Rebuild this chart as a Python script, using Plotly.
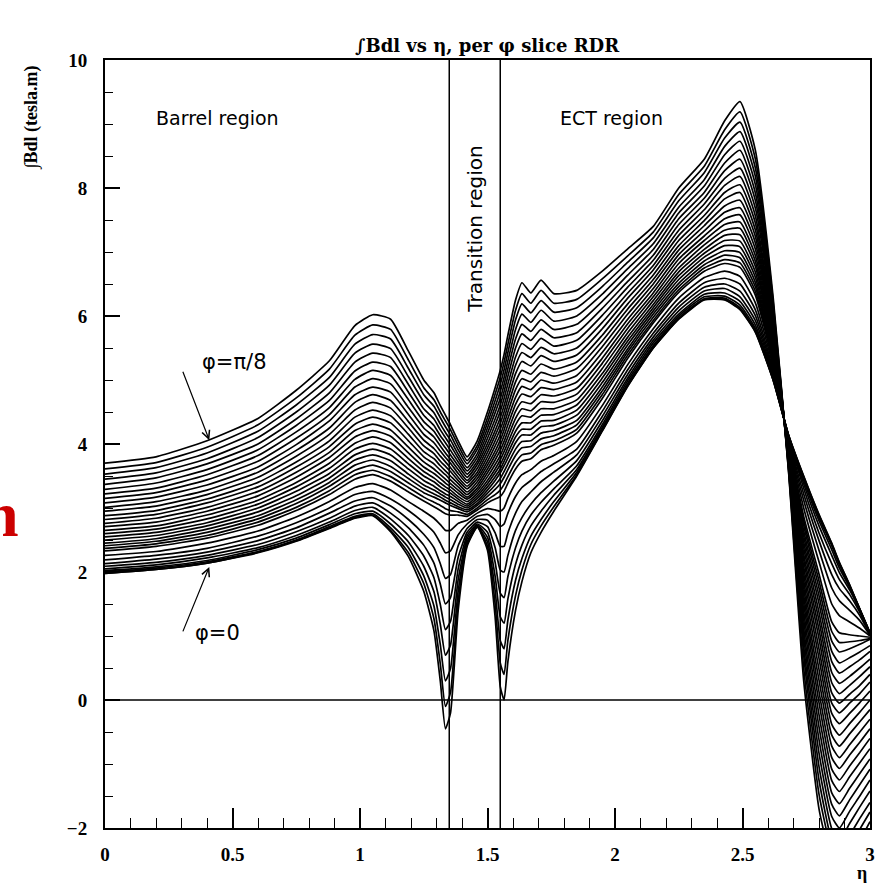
import plotly.graph_objects as go

# eta sampling points
eta = [0.00, 0.20, 0.40, 0.60, 0.75, 0.88, 0.98, 1.05,
       1.12, 1.19, 1.25, 1.29, 1.315, 1.335, 1.355, 1.385,
       1.42, 1.46, 1.50, 1.53, 1.55, 1.565, 1.58, 1.61,
       1.635, 1.67, 1.71, 1.76, 1.85, 1.95, 2.05, 2.15,
       2.25, 2.35, 2.43, 2.49, 2.55, 2.62, 2.68, 2.74,
       2.80, 2.85, 2.88, 2.92, 2.96, 3.00]

# integral B.dl (tesla.m) per phi slice, from phi = 0 (slice_00) up to phi = pi/8 (slice_31)
slice_00 = [1.98, 2.04, 2.14, 2.30, 2.48, 2.68, 2.84, 2.88, 2.63, 2.24, 1.70, 1.08, 0.29, -0.45, -0.20, 1.40,
            2.40, 2.70, 2.34, 1.29, 0.21, 0.00, 0.60, 1.40, 1.85, 2.30, 2.62, 2.95, 3.50, 4.20, 4.90, 5.50,
            5.95, 6.25, 6.25, 6.10, 5.75, 5.00, 4.15, 3.50, 2.90, 2.45, 2.15, 1.80, 1.42, 1.05]
slice_01 = [1.98, 2.04, 2.14, 2.31, 2.49, 2.69, 2.85, 2.89, 2.65, 2.30, 1.82, 1.27, 0.56, -0.10, 0.12, 1.54,
            2.43, 2.70, 2.40, 1.50, 0.58, 0.40, 0.93, 1.63, 2.03, 2.43, 2.72, 3.02, 3.52, 4.21, 4.91, 5.50,
            5.96, 6.26, 6.26, 6.11, 5.76, 5.00, 4.15, 3.49, 2.89, 2.44, 2.14, 1.80, 1.42, 1.05]
slice_02 = [2.00, 2.06, 2.16, 2.32, 2.50, 2.71, 2.87, 2.91, 2.69, 2.38, 1.94, 1.47, 0.86, 0.30, 0.49, 1.70,
            2.47, 2.71, 2.47, 1.71, 0.93, 0.80, 1.25, 1.87, 2.21, 2.56, 2.82, 3.10, 3.56, 4.23, 4.92, 5.52,
            5.97, 6.27, 6.28, 6.13, 5.78, 5.01, 4.14, 3.47, 2.85, 2.41, 2.11, 1.78, 1.42, 1.05]
slice_03 = [2.02, 2.08, 2.18, 2.35, 2.53, 2.74, 2.91, 2.95, 2.75, 2.47, 2.09, 1.69, 1.18, 0.70, 0.86, 1.88,
            2.52, 2.73, 2.54, 1.93, 1.30, 1.20, 1.58, 2.12, 2.42, 2.72, 2.95, 3.20, 3.60, 4.26, 4.95, 5.54,
            6.00, 6.30, 6.31, 6.17, 5.81, 5.03, 4.14, 3.43, 2.80, 2.35, 2.06, 1.76, 1.41, 1.04]
slice_04 = [2.05, 2.11, 2.22, 2.38, 2.57, 2.78, 2.96, 3.01, 2.83, 2.57, 2.25, 1.91, 1.49, 1.10, 1.23, 2.05,
            2.57, 2.75, 2.62, 2.15, 1.67, 1.60, 1.93, 2.38, 2.64, 2.89, 3.09, 3.30, 3.66, 4.30, 4.99, 5.58,
            6.03, 6.34, 6.36, 6.23, 5.86, 5.05, 4.13, 3.38, 2.72, 2.26, 1.99, 1.72, 1.40, 1.04]
slice_05 = [2.09, 2.15, 2.26, 2.43, 2.63, 2.84, 3.03, 3.08, 2.92, 2.69, 2.42, 2.14, 1.81, 1.50, 1.60, 2.23,
            2.62, 2.78, 2.71, 2.38, 2.03, 2.00, 2.26, 2.65, 2.85, 3.06, 3.24, 3.42, 3.74, 4.36, 5.03, 5.62,
            6.08, 6.39, 6.43, 6.30, 5.93, 5.08, 4.12, 3.31, 2.61, 2.13, 1.88, 1.65, 1.37, 1.03]
slice_06 = [2.13, 2.20, 2.31, 2.49, 2.69, 2.92, 3.11, 3.16, 3.03, 2.82, 2.59, 2.38, 2.13, 1.90, 1.96, 2.41,
            2.68, 2.82, 2.81, 2.61, 2.40, 2.40, 2.61, 2.92, 3.10, 3.25, 3.41, 3.56, 3.83, 4.43, 5.09, 5.67,
            6.14, 6.45, 6.50, 6.39, 6.01, 5.12, 4.10, 3.22, 2.49, 1.96, 1.74, 1.55, 1.32, 1.02]
slice_07 = [2.19, 2.26, 2.37, 2.56, 2.77, 3.00, 3.21, 3.26, 3.14, 2.96, 2.77, 2.62, 2.45, 2.30, 2.33, 2.58,
            2.75, 2.87, 2.90, 2.82, 2.71, 2.75, 2.92, 3.18, 3.32, 3.43, 3.57, 3.69, 3.92, 4.51, 5.16, 5.73,
            6.20, 6.52, 6.59, 6.50, 6.10, 5.16, 4.08, 3.12, 2.34, 1.75, 1.55, 1.40, 1.24, 1.01]
slice_08 = [2.26, 2.32, 2.45, 2.64, 2.86, 3.10, 3.32, 3.38, 3.28, 3.10, 2.95, 2.84, 2.74, 2.65, 2.65, 2.76,
            2.81, 2.92, 2.99, 2.97, 2.95, 3.00, 3.15, 3.39, 3.52, 3.60, 3.73, 3.82, 4.04, 4.60, 5.24, 5.80,
            6.28, 6.60, 6.70, 6.62, 6.21, 5.21, 4.06, 3.00, 2.16, 1.50, 1.32, 1.22, 1.12, 1.00]
slice_09 = [2.33, 2.40, 2.53, 2.73, 2.96, 3.21, 3.45, 3.52, 3.42, 3.25, 3.11, 3.02, 2.96, 2.91, 2.89, 2.89,
            2.87, 2.97, 3.08, 3.14, 3.18, 3.26, 3.39, 3.61, 3.73, 3.77, 3.91, 3.98, 4.17, 4.71, 5.34, 5.89,
            6.37, 6.70, 6.82, 6.76, 6.33, 5.26, 4.04, 2.87, 1.97, 1.22, 1.05, 1.02, 1.00, 0.98]
slice_10 = [2.37, 2.44, 2.57, 2.78, 3.01, 3.27, 3.52, 3.59, 3.49, 3.32, 3.17, 3.09, 3.04, 2.99, 2.96, 2.94,
            2.90, 3.00, 3.13, 3.21, 3.28, 3.37, 3.49, 3.71, 3.83, 3.86, 3.99, 4.05, 4.23, 4.77, 5.39, 5.93,
            6.41, 6.75, 6.88, 6.83, 6.39, 5.29, 4.02, 2.80, 1.86, 1.07, 0.90, 0.91, 0.93, 0.96]
slice_11 = [2.41, 2.48, 2.62, 2.83, 3.07, 3.34, 3.59, 3.67, 3.57, 3.39, 3.24, 3.17, 3.12, 3.08, 3.04, 2.99,
            2.94, 3.04, 3.18, 3.29, 3.38, 3.48, 3.60, 3.82, 3.94, 3.96, 4.08, 4.13, 4.30, 4.83, 5.44, 5.98,
            6.46, 6.80, 6.95, 6.91, 6.46, 5.33, 4.01, 2.73, 1.75, 0.92, 0.75, 0.80, 0.87, 0.95]
slice_12 = [2.45, 2.52, 2.67, 2.88, 3.13, 3.40, 3.67, 3.75, 3.65, 3.46, 3.30, 3.22, 3.17, 3.12, 3.08, 3.02,
            2.97, 3.07, 3.23, 3.36, 3.46, 3.57, 3.69, 3.92, 4.04, 4.05, 4.17, 4.21, 4.37, 4.89, 5.49, 6.03,
            6.51, 6.86, 7.02, 6.99, 6.53, 5.36, 3.99, 2.64, 1.63, 0.76, 0.58, 0.66, 0.75, 0.85]
slice_13 = [2.50, 2.57, 2.72, 2.94, 3.19, 3.47, 3.75, 3.83, 3.74, 3.53, 3.36, 3.28, 3.22, 3.17, 3.13, 3.06,
            3.00, 3.11, 3.28, 3.43, 3.55, 3.66, 3.78, 4.02, 4.14, 4.14, 4.27, 4.29, 4.45, 4.96, 5.55, 6.08,
            6.57, 6.92, 7.10, 7.08, 6.61, 5.39, 3.98, 2.56, 1.51, 0.60, 0.42, 0.52, 0.63, 0.76]
slice_14 = [2.55, 2.62, 2.77, 3.00, 3.26, 3.54, 3.83, 3.92, 3.83, 3.61, 3.43, 3.34, 3.27, 3.22, 3.18, 3.10,
            3.03, 3.15, 3.33, 3.49, 3.61, 3.73, 3.86, 4.11, 4.23, 4.23, 4.36, 4.37, 4.53, 5.03, 5.61, 6.13,
            6.63, 6.98, 7.18, 7.17, 6.69, 5.43, 3.96, 2.47, 1.37, 0.43, 0.26, 0.37, 0.50, 0.64]
slice_15 = [2.60, 2.67, 2.83, 3.06, 3.33, 3.62, 3.92, 4.01, 3.92, 3.69, 3.50, 3.41, 3.33, 3.28, 3.23, 3.14,
            3.06, 3.19, 3.38, 3.55, 3.68, 3.80, 3.94, 4.20, 4.33, 4.33, 4.45, 4.46, 4.61, 5.10, 5.67, 6.18,
            6.69, 7.04, 7.26, 7.27, 6.78, 5.47, 3.95, 2.38, 1.24, 0.27, 0.10, 0.23, 0.37, 0.52]
slice_16 = [2.65, 2.72, 2.89, 3.12, 3.40, 3.70, 4.01, 4.11, 4.02, 3.77, 3.57, 3.47, 3.39, 3.33, 3.28, 3.18,
            3.10, 3.23, 3.43, 3.61, 3.75, 3.88, 4.02, 4.30, 4.44, 4.42, 4.55, 4.55, 4.69, 5.18, 5.74, 6.24,
            6.75, 7.11, 7.34, 7.37, 6.86, 5.51, 3.93, 2.28, 1.10, 0.11, -0.05, 0.09, 0.23, 0.40]
slice_17 = [2.71, 2.78, 2.95, 3.19, 3.48, 3.79, 4.11, 4.21, 4.12, 3.86, 3.64, 3.54, 3.46, 3.39, 3.33, 3.23,
            3.14, 3.27, 3.49, 3.68, 3.82, 3.96, 4.11, 4.40, 4.55, 4.52, 4.66, 4.65, 4.78, 5.26, 5.81, 6.30,
            6.82, 7.18, 7.43, 7.47, 6.95, 5.55, 3.92, 2.19, 0.96, -0.05, -0.20, -0.05, 0.10, 0.28]
slice_18 = [2.76, 2.84, 3.01, 3.26, 3.56, 3.87, 4.21, 4.31, 4.22, 3.95, 3.72, 3.61, 3.52, 3.45, 3.38, 3.28,
            3.17, 3.31, 3.55, 3.75, 3.90, 4.04, 4.20, 4.51, 4.66, 4.63, 4.77, 4.75, 4.87, 5.34, 5.88, 6.36,
            6.89, 7.25, 7.52, 7.58, 7.05, 5.59, 3.90, 2.08, 0.80, -0.21, -0.37, -0.21, -0.04, 0.14]
slice_19 = [2.82, 2.90, 3.08, 3.33, 3.64, 3.96, 4.31, 4.42, 4.33, 4.05, 3.80, 3.69, 3.59, 3.52, 3.44, 3.33,
            3.21, 3.36, 3.61, 3.82, 3.98, 4.13, 4.30, 4.62, 4.78, 4.74, 4.88, 4.85, 4.97, 5.43, 5.95, 6.43,
            6.96, 7.33, 7.62, 7.69, 7.15, 5.64, 3.88, 1.98, 0.65, -0.38, -0.55, -0.37, -0.19, 0.00]
slice_20 = [2.88, 2.96, 3.14, 3.40, 3.72, 4.05, 4.42, 4.53, 4.44, 4.15, 3.88, 3.77, 3.66, 3.58, 3.50, 3.38,
            3.25, 3.41, 3.67, 3.89, 4.06, 4.22, 4.40, 4.73, 4.90, 4.85, 5.00, 4.95, 5.07, 5.52, 6.03, 6.50,
            7.03, 7.41, 7.72, 7.81, 7.25, 5.68, 3.86, 1.87, 0.48, -0.55, -0.72, -0.53, -0.34, -0.15]
slice_21 = [2.95, 3.03, 3.21, 3.48, 3.81, 4.15, 4.53, 4.65, 4.56, 4.25, 3.97, 3.85, 3.73, 3.65, 3.57, 3.43,
            3.30, 3.46, 3.73, 3.97, 4.14, 4.31, 4.50, 4.85, 5.02, 4.97, 5.12, 5.06, 5.18, 5.61, 6.11, 6.57,
            7.10, 7.49, 7.83, 7.93, 7.35, 5.73, 3.84, 1.76, 0.31, -0.72, -0.90, -0.70, -0.50, -0.30]
slice_22 = [3.01, 3.10, 3.28, 3.56, 3.90, 4.25, 4.65, 4.77, 4.68, 4.35, 4.06, 3.93, 3.81, 3.72, 3.63, 3.48,
            3.34, 3.51, 3.80, 4.05, 4.23, 4.40, 4.60, 4.97, 5.15, 5.09, 5.25, 5.17, 5.28, 5.70, 6.19, 6.64,
            7.18, 7.57, 7.93, 8.05, 7.46, 5.78, 3.82, 1.64, 0.13, -0.90, -1.07, -0.86, -0.66, -0.45]
slice_23 = [3.08, 3.17, 3.36, 3.64, 3.99, 4.36, 4.77, 4.89, 4.81, 4.46, 4.15, 4.02, 3.89, 3.79, 3.70, 3.54,
            3.39, 3.56, 3.87, 4.13, 4.32, 4.50, 4.71, 5.10, 5.29, 5.22, 5.38, 5.29, 5.39, 5.80, 6.28, 6.72,
            7.26, 7.66, 8.04, 8.18, 7.57, 5.83, 3.80, 1.52, -0.04, -1.08, -1.25, -1.03, -0.82, -0.60]
slice_24 = [3.15, 3.24, 3.44, 3.73, 4.09, 4.46, 4.89, 5.02, 4.94, 4.57, 4.25, 4.11, 3.97, 3.86, 3.76, 3.60,
            3.43, 3.62, 3.94, 4.21, 4.41, 4.60, 4.82, 5.23, 5.43, 5.35, 5.51, 5.41, 5.50, 5.90, 6.36, 6.79,
            7.34, 7.75, 8.15, 8.31, 7.69, 5.88, 3.77, 1.39, -0.23, -1.26, -1.43, -1.20, -0.98, -0.76]
slice_25 = [3.22, 3.31, 3.52, 3.82, 4.19, 4.57, 5.01, 5.15, 5.07, 4.69, 4.35, 4.20, 4.05, 3.94, 3.83, 3.66,
            3.48, 3.68, 4.01, 4.30, 4.51, 4.71, 4.94, 5.36, 5.57, 5.48, 5.65, 5.53, 5.62, 6.01, 6.45, 6.87,
            7.43, 7.84, 8.27, 8.45, 7.81, 5.94, 3.75, 1.26, -0.42, -1.45, -1.62, -1.38, -1.15, -0.92]
slice_26 = [3.29, 3.39, 3.60, 3.91, 4.29, 4.68, 5.14, 5.28, 5.21, 4.81, 4.45, 4.29, 4.13, 4.02, 3.90, 3.72,
            3.53, 3.73, 4.09, 4.39, 4.61, 4.82, 5.06, 5.50, 5.72, 5.62, 5.79, 5.66, 5.74, 6.12, 6.54, 6.95,
            7.52, 7.93, 8.39, 8.59, 7.93, 5.99, 3.72, 1.12, -0.62, -1.63, -1.81, -1.56, -1.32, -1.08]
slice_27 = [3.37, 3.47, 3.69, 4.00, 4.39, 4.80, 5.28, 5.42, 5.35, 4.93, 4.55, 4.39, 4.22, 4.10, 3.98, 3.78,
            3.58, 3.79, 4.17, 4.49, 4.71, 4.93, 5.18, 5.64, 5.87, 5.76, 5.94, 5.79, 5.87, 6.23, 6.64, 7.04,
            7.61, 8.03, 8.52, 8.73, 8.06, 6.05, 3.70, 0.99, -0.83, -1.82, -2.00, -1.74, -1.50, -1.25]
slice_28 = [3.45, 3.55, 3.77, 4.10, 4.50, 4.92, 5.42, 5.56, 5.49, 5.05, 4.66, 4.49, 4.31, 4.18, 4.06, 3.84,
            3.63, 3.85, 4.25, 4.58, 4.82, 5.04, 5.30, 5.79, 6.03, 5.90, 6.09, 5.92, 6.00, 6.34, 6.74, 7.13,
            7.70, 8.13, 8.65, 8.88, 8.19, 6.11, 3.67, 0.84, -1.04, -2.01, -2.20, -1.93, -1.67, -1.42]
slice_29 = [3.53, 3.63, 3.86, 4.20, 4.61, 5.04, 5.56, 5.71, 5.64, 5.18, 4.77, 4.59, 4.41, 4.27, 4.14, 3.91,
            3.69, 3.92, 4.33, 4.68, 4.93, 5.16, 5.43, 5.94, 6.19, 6.05, 6.24, 6.06, 6.13, 6.46, 6.84, 7.22,
            7.80, 8.24, 8.78, 9.03, 8.32, 6.17, 3.65, 0.70, -1.25, -2.20, -2.40, -2.12, -1.85, -1.60]
slice_30 = [3.61, 3.71, 3.95, 4.30, 4.72, 5.17, 5.70, 5.86, 5.79, 5.31, 4.88, 4.69, 4.50, 4.36, 4.22, 3.98,
            3.74, 3.98, 4.41, 4.78, 5.04, 5.28, 5.56, 6.09, 6.35, 6.20, 6.40, 6.20, 6.26, 6.58, 6.94, 7.31,
            7.90, 8.34, 8.91, 9.19, 8.46, 6.23, 3.62, 0.50, -1.47, -2.37, -2.60, -2.31, -2.02, -1.75]
slice_31 = [3.70, 3.80, 4.05, 4.40, 4.84, 5.30, 5.85, 6.02, 5.95, 5.45, 5.00, 4.80, 4.60, 4.45, 4.30, 4.05,
            3.80, 4.05, 4.50, 4.88, 5.15, 5.40, 5.70, 6.25, 6.52, 6.36, 6.56, 6.35, 6.40, 6.70, 7.05, 7.40,
            8.00, 8.45, 9.05, 9.35, 8.60, 6.30, 3.60, 0.30, -1.70, -2.55, -2.80, -2.50, -2.20, -1.90]

phi_slices = [slice_00, slice_01, slice_02, slice_03, slice_04, slice_05, slice_06, slice_07,
              slice_08, slice_09, slice_10, slice_11, slice_12, slice_13, slice_14, slice_15,
              slice_16, slice_17, slice_18, slice_19, slice_20, slice_21, slice_22, slice_23,
              slice_24, slice_25, slice_26, slice_27, slice_28, slice_29, slice_30, slice_31]

# region boundaries in eta and the zero reference
region_edges = [1.35, 1.55]
zero_level = 0.0

x_ticks = [0, 0.5, 1, 1.5, 2, 2.5, 3]
x_tick_text = ["0", "0.5", "1", "1.5", "2", "2.5", "3"]
y_ticks = [-2, 0, 2, 4, 6, 8, 10]

SERIF = "Liberation Serif"
SERIF_WIDE = "DejaVu Serif"
SANS = "DejaVu Sans"

fig = go.Figure()

for i, values in enumerate(phi_slices):
    fig.add_trace(go.Scatter(
        x=eta, y=values, mode="lines",
        line=dict(color="black", width=1.7, shape="spline", smoothing=0.5),
        hoverinfo="skip", showlegend=False, name=f"slice {i}",
    ))

for edge in region_edges:
    fig.add_shape(type="line", xref="x", yref="y", x0=edge, x1=edge, y0=-2, y1=10,
                  line=dict(color="black", width=1.5))
fig.add_shape(type="line", xref="x", yref="y", x0=0, x1=3, y0=zero_level, y1=zero_level,
              line=dict(color="black", width=1.5))

fig.update_layout(
    width=882, height=885,
    margin=dict(l=105, r=7, t=60, b=57),
    paper_bgcolor="white", plot_bgcolor="white",
    showlegend=False,
    hovermode=False,
)

fig.update_xaxes(
    range=[0, 3], showgrid=False, zeroline=False,
    showline=True, mirror=True, linecolor="black", linewidth=2,
    tickmode="array", tickvals=x_ticks, ticktext=x_tick_text,
    ticks="inside", ticklen=20, tickwidth=1.5, tickcolor="black",
    ticklabelstandoff=8,
    tickfont=dict(family=SERIF, size=19, color="black", weight="bold"),
    minor=dict(dtick=0.1, ticks="inside", ticklen=10, tickwidth=1.2, tickcolor="black", showgrid=False),
)
fig.update_yaxes(
    range=[-2, 10], showgrid=False, zeroline=False,
    showline=True, mirror=True, linecolor="black", linewidth=2,
    tickmode="array", tickvals=y_ticks,
    ticks="inside", ticklen=15, tickwidth=1.5, tickcolor="black",
    ticklabelstandoff=12,
    tickfont=dict(family=SERIF, size=19, color="black", weight="bold"),
    minor=dict(dtick=0.5, ticks="inside", ticklen=8, tickwidth=1.2, tickcolor="black", showgrid=False),
)

annotations = [
    dict(text="∫Bdl vs η, per φ slice RDR", xref="paper", yref="paper", x=0.5, y=1.0195,
         xanchor="center", yanchor="middle", showarrow=False,
         font=dict(family=SERIF_WIDE, size=18, color="black", weight="bold")),
    dict(text="∫Bdl (tesla.m)", xref="paper", yref="paper", x=-0.096, y=0.9245,
         xanchor="center", yanchor="middle", textangle=-90, showarrow=False,
         font=dict(family=SERIF, size=18, color="black", weight="bold")),
    dict(text="η", xref="paper", yref="paper", x=0.989, y=-0.058,
         xanchor="center", yanchor="middle", showarrow=False,
         font=dict(family=SERIF, size=18, color="black", weight="bold")),
    dict(text="Barrel region", xref="paper", yref="paper", x=0.1468, y=0.9245,
         xanchor="center", yanchor="middle", showarrow=False,
         font=dict(family=SANS, size=19, color="black")),
    dict(text="ECT region", xref="paper", yref="paper", x=0.6623, y=0.9245,
         xanchor="center", yanchor="middle", showarrow=False,
         font=dict(family=SANS, size=19, color="black")),
    dict(text="Transition region", xref="x", yref="paper", x=1.45, y=0.78,
         xanchor="center", yanchor="middle", textangle=-90, showarrow=False,
         font=dict(family=SANS, size=20, color="black")),
    dict(text="φ=π/8", xref="paper", yref="paper", x=0.169, y=0.607,
         xanchor="center", yanchor="middle", showarrow=False,
         font=dict(family=SANS, size=21, color="black")),
    dict(text="φ=0", xref="paper", yref="paper", x=0.147, y=0.254,
         xanchor="center", yanchor="middle", showarrow=False,
         font=dict(family=SANS, size=21, color="black")),
    dict(text="", xref="x", yref="y", x=0.409, y=4.06, ax=-27, ay=-70,
         showarrow=True, arrowhead=5, arrowsize=1.3, arrowwidth=1.2, arrowcolor="black"),
    dict(text="", xref="x", yref="y", x=0.409, y=2.08, ax=-27, ay=66,
         showarrow=True, arrowhead=5, arrowsize=1.3, arrowwidth=1.2, arrowcolor="black"),
    dict(text="n", xref="paper", yref="paper", x=-0.1104, y=0.4076,
         xanchor="right", yanchor="middle", showarrow=False,
         font=dict(family=SERIF, size=64, color="#cc0000", weight="bold")),
]
fig.update_layout(annotations=annotations)

fig.write_html("out.html")
